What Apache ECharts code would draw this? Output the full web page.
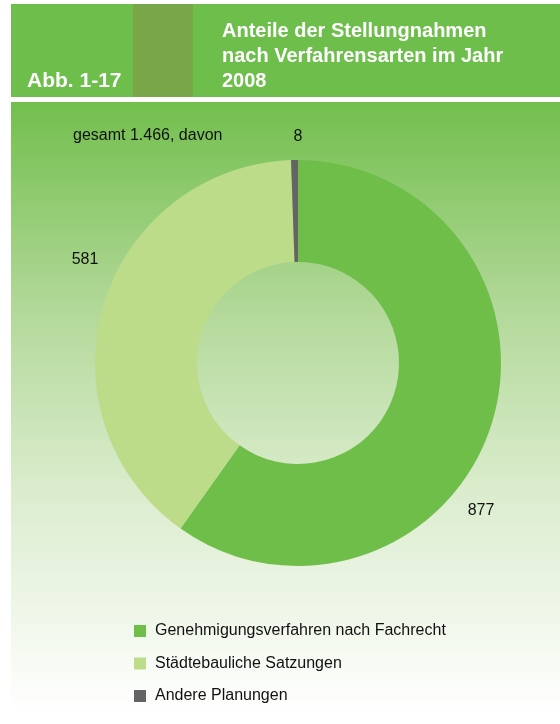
<!DOCTYPE html>
<html><head><meta charset="utf-8">
<script src="https://cdn.jsdelivr.net/npm/echarts@6/dist/echarts.min.js"></script>
<style>html,body{margin:0;padding:0;background:#fff}#c{width:560px;height:724px}</style>
</head><body><div id="c"></div>
<script>
const categories = ['Genehmigungsverfahren nach Fachrecht', 'Städtebauliche Satzungen', 'Andere Planungen'];
const values = [877, 581, 8];
const colors = ['#6fbe4a', '#bcdc8a', '#646464'];
const totalText = 'gesamt 1.466, davon';
const figLabel = 'Abb. 1-17';
const titleText = 'Anteile der Stellungnahmen\nnach Verfahrensarten im Jahr\n2008';

const labelPos = [[481, 511], [85, 260], [298, 137]];
const font = '"Liberation Sans", Arial, sans-serif';

const chart = echarts.init(document.getElementById('c'));
chart.setOption({
  animation: false,
  graphic: [
    { type: 'rect', z: 0, shape: { x: 11, y: 102, width: 549, height: 610 },
      style: { fill: new echarts.graphic.LinearGradient(0, 0, 0, 1, [
        { offset: 0, color: '#72bf4d' }, { offset: 0.35, color: '#b4d99b' },
        { offset: 0.65, color: '#dcedcf' }, { offset: 1, color: '#ffffff' }]) } },
    { type: 'rect', z: 0, shape: { x: 11, y: 4, width: 549, height: 93 }, style: { fill: '#6dbe4b' } },
    { type: 'rect', z: 1, shape: { x: 133, y: 4, width: 60, height: 93 }, style: { fill: '#7aa64a' } },
    { type: 'text', z: 2, left: 27, top: 71, style: { text: figLabel, fill: '#fff', font: 'bold 21px ' + font } },
    { type: 'text', z: 2, left: 222, top: 19, style: { text: titleText, fill: '#fff', font: 'bold 20px ' + font, lineHeight: 25 } },
    { type: 'text', z: 2, left: 73, top: 128, style: { text: totalText, fill: '#111', font: '16px ' + font } }
  ],
  color: colors,
  legend: {
    orient: 'vertical', left: 134, top: 623, padding: 0, itemWidth: 12, itemHeight: 12, itemGap: 16.5,
    icon: 'rect', textStyle: { fontFamily: font, fontSize: 16, lineHeight: 16, color: '#111', padding: [0, 0, 0, 4] },
    data: categories
  },
  series: [{
    type: 'pie', center: [298, 363], radius: [101, 203], startAngle: 90, clockwise: true,
    avoidLabelOverlap: false, silent: true,
    label: { show: true, position: 'outside', formatter: '{c}', fontFamily: font, fontSize: 16, color: '#111' },
    labelLine: { show: false },
    labelLayout: function (p) { const q = labelPos[p.dataIndex]; return { x: q[0], y: q[1], align: 'center', verticalAlign: 'middle' }; },
    itemStyle: { borderWidth: 0 },
    data: categories.map((n, i) => ({ name: n, value: values[i] }))
  }]
});
</script></body></html>
